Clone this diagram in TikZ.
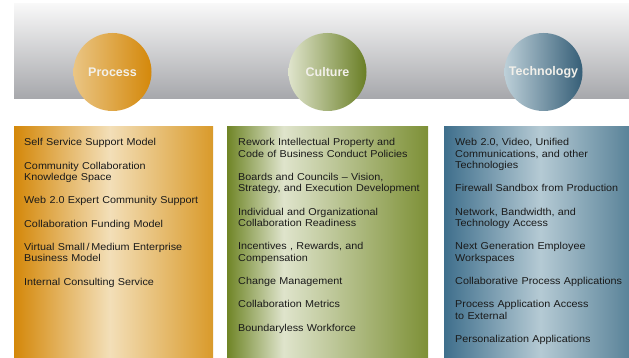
\documentclass[tikz,border=0pt]{standalone}
\usepackage{fontspec}
\setmainfont{Liberation Sans}
\newfontfamily\itemfont[FakeStretch=1.08]{Liberation Sans}
\usetikzlibrary{positioning}

\definecolor{bandtop}{HTML}{F8F8F8}
\definecolor{bandbot}{HTML}{A6A7AB}
\definecolor{procL}{HTML}{D4880A}
\definecolor{procM}{HTML}{F3DFB8}
\definecolor{procR}{HTML}{D99A2A}
\definecolor{cultL}{HTML}{6F8527}
\definecolor{cultM}{HTML}{DFE4CC}
\definecolor{cultR}{HTML}{7D9036}
\definecolor{techL}{HTML}{3F6F8C}
\definecolor{techM}{HTML}{B5CAD4}
\definecolor{techR}{HTML}{5A8399}
\definecolor{labeltext}{HTML}{F2F0EA}
\definecolor{itemtext}{HTML}{1A1A1A}

% lightest stripe sits a little off centre in each column
\pgfdeclarehorizontalshading{procshade}{100bp}{color(0bp)=(procL); color(25bp)=(procL); color(49bp)=(procM); color(75bp)=(procR); color(100bp)=(procR)}
\pgfdeclarehorizontalshading{cultshade}{100bp}{color(0bp)=(cultL); color(25bp)=(cultL); color(39bp)=(cultM); color(75bp)=(cultR); color(100bp)=(cultR)}
\pgfdeclarehorizontalshading{techshade}{100bp}{color(0bp)=(techL); color(25bp)=(techL); color(51bp)=(techM); color(75bp)=(techR); color(100bp)=(techR)}

\tikzset{
  colbox/.style={rectangle, inner sep=0, anchor=south west, minimum height=231pt},
  badge/.style={circle, inner sep=0, minimum size=78pt,
    text=labeltext, font=\fontsize{12.5}{14}\selectfont\bfseries},
  item/.style={inner sep=0, align=left, text=itemtext,
    font=\itemfont\fontsize{10}{11.3}\selectfont,
    execute at begin node=\strut, execute at end node=\strut},
}

\begin{document}
\begin{tikzpicture}[x=1pt, y=1pt]
\useasboundingbox (0,0) rectangle (629,358);
% grey band
\shade[top color=bandtop, bottom color=bandbot] (14,354) rectangle (629,259);

% columns
\node[colbox, shading=procshade, minimum width=199pt] (procbox) at (14,0) {};
\node[colbox, shading=cultshade, minimum width=201pt] (cultbox) at (227,0) {};
\node[colbox, shading=techshade, minimum width=185pt] (techbox) at (444,0) {};

% badges
\node[badge, left color=procM!70!procL, right color=procL] (process) at (112.5,286) {Process};
\node[badge, left color=cultM, right color=cultL!95!black] (culture) at (327.5,286) {Culture};
\node[badge, left color=techM!90!white, right color=techL!85!black] (technology) at (543.5,286) {Technology};

% Process items
\node[item, text width=185pt, below right=11pt and 10pt of procbox.north west] (p1) {Self Service Support Model};
\node[item, text width=185pt, below right=11.7pt and 0pt of p1.south west] (p2) {Community Collaboration\\Knowledge Space};
\node[item, text width=185pt, below right=11.7pt and 0pt of p2.south west] (p3) {Web 2.0 Expert Community Support};
\node[item, text width=185pt, below right=11.7pt and 0pt of p3.south west] (p4) {Collaboration Funding Model};
\node[item, text width=185pt, below right=11.7pt and 0pt of p4.south west] (p5) {Virtual Small\,/\,Medium Enterprise\\Business Model};
\node[item, text width=185pt, below right=11.7pt and 0pt of p5.south west] (p6) {Internal Consulting Service};

% Culture items
\node[item, text width=185pt, below right=11pt and 11pt of cultbox.north west] (c1) {Rework Intellectual Property and\\Code of Business Conduct Policies};
\node[item, text width=185pt, below right=11.7pt and 0pt of c1.south west] (c2) {Boards and Councils – Vision,\\Strategy, and Execution Development};
\node[item, text width=185pt, below right=11.7pt and 0pt of c2.south west] (c3) {Individual and Organizational\\Collaboration Readiness};
\node[item, text width=185pt, below right=11.7pt and 0pt of c3.south west] (c4) {Incentives , Rewards, and\\Compensation};
\node[item, text width=185pt, below right=11.7pt and 0pt of c4.south west] (c5) {Change Management};
\node[item, text width=185pt, below right=11.7pt and 0pt of c5.south west] (c6) {Collaboration Metrics};
\node[item, text width=185pt, below right=11.7pt and 0pt of c6.south west] (c7) {Boundaryless Workforce};

% Technology items
\node[item, text width=172pt, below right=11pt and 11pt of techbox.north west] (t1) {Web 2.0, Video, Unified\\Communications, and other\\Technologies};
\node[item, text width=172pt, below right=11.7pt and 0pt of t1.south west] (t2) {Firewall Sandbox from Production};
\node[item, text width=172pt, below right=11.7pt and 0pt of t2.south west] (t3) {Network, Bandwidth, and\\Technology Access};
\node[item, text width=172pt, below right=11.7pt and 0pt of t3.south west] (t4) {Next Generation Employee\\Workspaces};
\node[item, text width=172pt, below right=11.7pt and 0pt of t4.south west] (t5) {Collaborative Process Applications};
\node[item, text width=172pt, below right=11.7pt and 0pt of t5.south west] (t6) {Process Application Access\\to External};
\node[item, text width=172pt, below right=11.7pt and 0pt of t6.south west] (t7) {Personalization Applications};
\end{tikzpicture}
\end{document}
